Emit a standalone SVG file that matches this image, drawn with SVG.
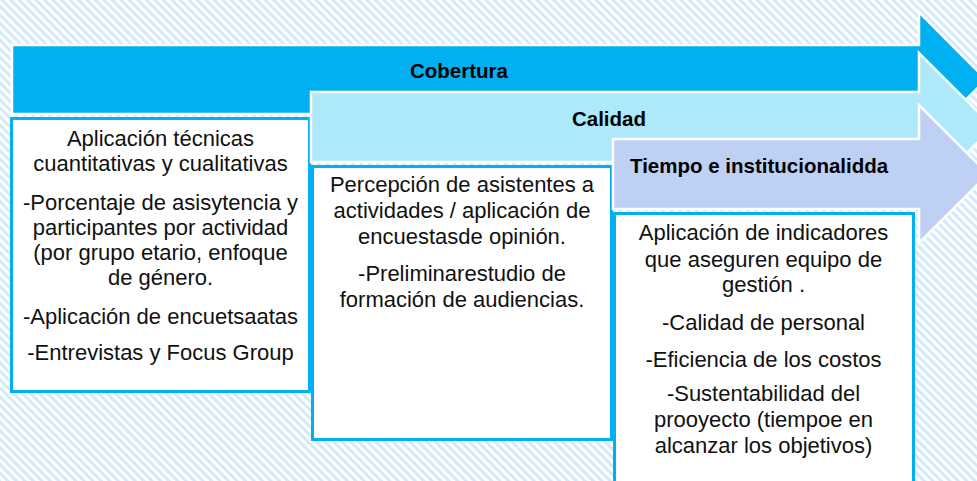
<svg xmlns="http://www.w3.org/2000/svg" width="977" height="481" viewBox="0 0 977 481">
  <defs>
    <pattern id="stripes" patternUnits="userSpaceOnUse" width="6" height="6" patternTransform="rotate(-45)">
      <rect x="0" y="0" width="6" height="6" fill="#ffffff"/>
      <rect x="0" y="0" width="3" height="6" fill="#d3eafd"/>
    </pattern>
  </defs>
  <style>
    .arrow { stroke: #ffffff; stroke-width: 2.5; stroke-linejoin: miter; }
    .a1 { fill: #00b0f0; }
    .a2 { fill: #ade8fb; }
    .a3 { fill: #bfd0f5; }
    .box { fill: #ffffff; stroke: #00b0f0; stroke-width: 3; }
    .title { font-family: "Liberation Sans", Arial, sans-serif; font-weight: bold; font-size: 20.5px; fill: #000000; }
    .body { font-family: "Liberation Sans", Arial, sans-serif; font-size: 22px; fill: #111111; text-anchor: middle; }
  </style>
  <rect x="0" y="0" width="977" height="481" fill="url(#stripes)"/>

  <g id="cobertura">
    <polygon class="arrow a1" points="12,45 919,45 919,12 986,79.5 919,147 919,114 12,114"/>
    <text class="title" x="459" y="78" text-anchor="middle">Cobertura</text>
  </g>
  <g id="cobertura-detalle">
    <rect class="box" x="11.5" y="118.5" width="298" height="273"/>
    <text class="body" x="160.5" y="146">Aplicación técnicas</text>
    <text class="body" x="160.5" y="171">cuantitativas y cualitativas</text>
    <text class="body" x="160.5" y="210">-Porcentaje de asisytencia y</text>
    <text class="body" x="160.5" y="235">participantes por actividad</text>
    <text class="body" x="160.5" y="260">(por grupo etario, enfoque</text>
    <text class="body" x="160.5" y="285">de género.</text>
    <text class="body" x="160.5" y="324">-Aplicación de encuetsaatas</text>
    <text class="body" x="160.5" y="360">-Entrevistas y Focus Group</text>
  </g>

  <g id="calidad">
    <polygon class="arrow a2" points="311,92 919,92 919,53 993,127 919,201 919,162 311,162"/>
    <text class="title" x="609" y="126" text-anchor="middle">Calidad</text>
  </g>
  <g id="calidad-detalle">
    <rect class="box" x="312.5" y="166.5" width="299" height="273"/>
    <text class="body" x="462" y="192">Percepción de asistentes a</text>
    <text class="body" x="462" y="218">actividades / aplicación de</text>
    <text class="body" x="462" y="244">encuestasde opinión.</text>
    <text class="body" x="462" y="281">-Preliminarestudio de</text>
    <text class="body" x="462" y="307">formación de audiencias.</text>
  </g>

  <g id="tiempo">
    <polygon class="arrow a3" points="613,139 919,139 919,105 988,174 919,243 919,209 613,209"/>
    <text class="title" x="630" y="173">Tiempo e institucionalidda</text>
  </g>
  <g id="tiempo-detalle">
    <rect class="box" x="614.5" y="213.5" width="299" height="280"/>
    <text class="body" x="763.5" y="240">Aplicación de indicadores</text>
    <text class="body" x="763.5" y="266.5">que aseguren equipo de</text>
    <text class="body" x="763.5" y="292">gestión .</text>
    <text class="body" x="763.5" y="330">-Calidad de personal</text>
    <text class="body" x="763.5" y="366.5">-Eficiencia de los costos</text>
    <text class="body" x="763.5" y="401">-Sustentabilidad del</text>
    <text class="body" x="763.5" y="427">prooyecto (tiempoe en</text>
    <text class="body" x="763.5" y="453">alcanzar los objetivos)</text>
  </g>

  <g id="connectors"/>
</svg>
